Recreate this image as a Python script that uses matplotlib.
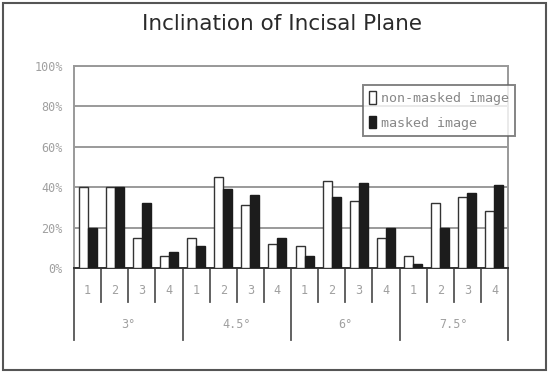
import numpy as np
import matplotlib
matplotlib.use("Agg")
from matplotlib import pyplot as plt
from matplotlib.patches import Rectangle

title = "Inclination of Incisal Plane"
groups = ["3°", "4.5°", "6°", "7.5°"]
subcats = ["1", "2", "3", "4"]
series_names = ["non-masked image", "masked image"]

# percent values, group by group (1..4 each)
non_masked = [40, 40, 15, 6,   15, 45, 31, 12,   11, 43, 33, 15,   6, 32, 35, 28]
masked     = [20, 40, 32, 8,   11, 39, 36, 15,    6, 35, 42, 20,   2, 20, 37, 41]
yticks = [0, 20, 40, 60, 80, 100]

mono = "DejaVu Sans Mono"
lab_col = "#a0a0a0"

fig = plt.figure(figsize=(5.52, 3.72), dpi=100)
fig.patches.append(Rectangle((3 / 552, 2 / 372), 543 / 552, 367 / 372, transform=fig.transFigure,
                             fill=False, edgecolor="#555555", linewidth=1.5))

ax = fig.add_axes([74 / 552, 1 - 268 / 372, 434 / 552, 202 / 372])

n = len(non_masked)
x = np.arange(n)
w = 0.33
ax.bar(x - w / 2, non_masked, w, color="white", edgecolor="#333333", linewidth=1.0,
       label=series_names[0], zorder=3)
ax.bar(x + w / 2, masked, w, color="#1c1c1c", edgecolor="#1c1c1c", linewidth=1.0,
       label=series_names[1], zorder=3)

ax.set_xlim(-0.5, n - 0.5)
ax.set_ylim(0, 100)
ax.set_yticks(yticks)
ax.set_yticklabels([f"{v}%" for v in yticks], color=lab_col, fontsize=8.5, family=mono)
ax.tick_params(axis="y", length=0, pad=8)
ax.yaxis.grid(True, color="#9a9a9a", linewidth=1.4, zorder=0)
ax.set_xticks([])
for s in ax.spines.values():
    s.set_color("#999999")
    s.set_linewidth(1.4)
ax.spines["bottom"].set_color("#333333")

# two-level category axis
tr = ax.get_xaxis_transform()
for i in range(n + 1):
    depth = -0.356 if i % len(subcats) == 0 else -0.168
    ax.plot([i - 0.5, i - 0.5], [0, depth], transform=tr, color="#555555",
            linewidth=1.3, clip_on=False)
for i in range(n):
    ax.text(i, -0.11, subcats[i % len(subcats)], transform=tr, ha="center", va="center",
            fontsize=8.5, color=lab_col, family=mono)
for g, name in enumerate(groups):
    c = g * len(subcats) + (len(subcats) - 1) / 2
    ax.text(c, -0.28, name, transform=tr, ha="center", va="center",
            fontsize=8.5, color=lab_col, family=mono)

leg = ax.legend(loc="upper left", bbox_to_anchor=(363 / 552, 1 - 85 / 372),
                bbox_transform=fig.transFigure, frameon=True, fancybox=False,
                prop={"family": mono, "size": 9.6}, handlelength=0.55,
                handleheight=1.1, labelspacing=0.8, borderpad=0.45, handletextpad=0.35,
                borderaxespad=0)
leg.get_frame().set_edgecolor("#666666")
leg.get_frame().set_linewidth(1.4)
for t in leg.get_texts():
    t.set_color("#888888")

fig.text(282 / 552, 1 - 24 / 372, title, ha="center", va="center", fontsize=15.5,
         color="#2a2a2a")

fig.savefig("out.png", dpi=100)
